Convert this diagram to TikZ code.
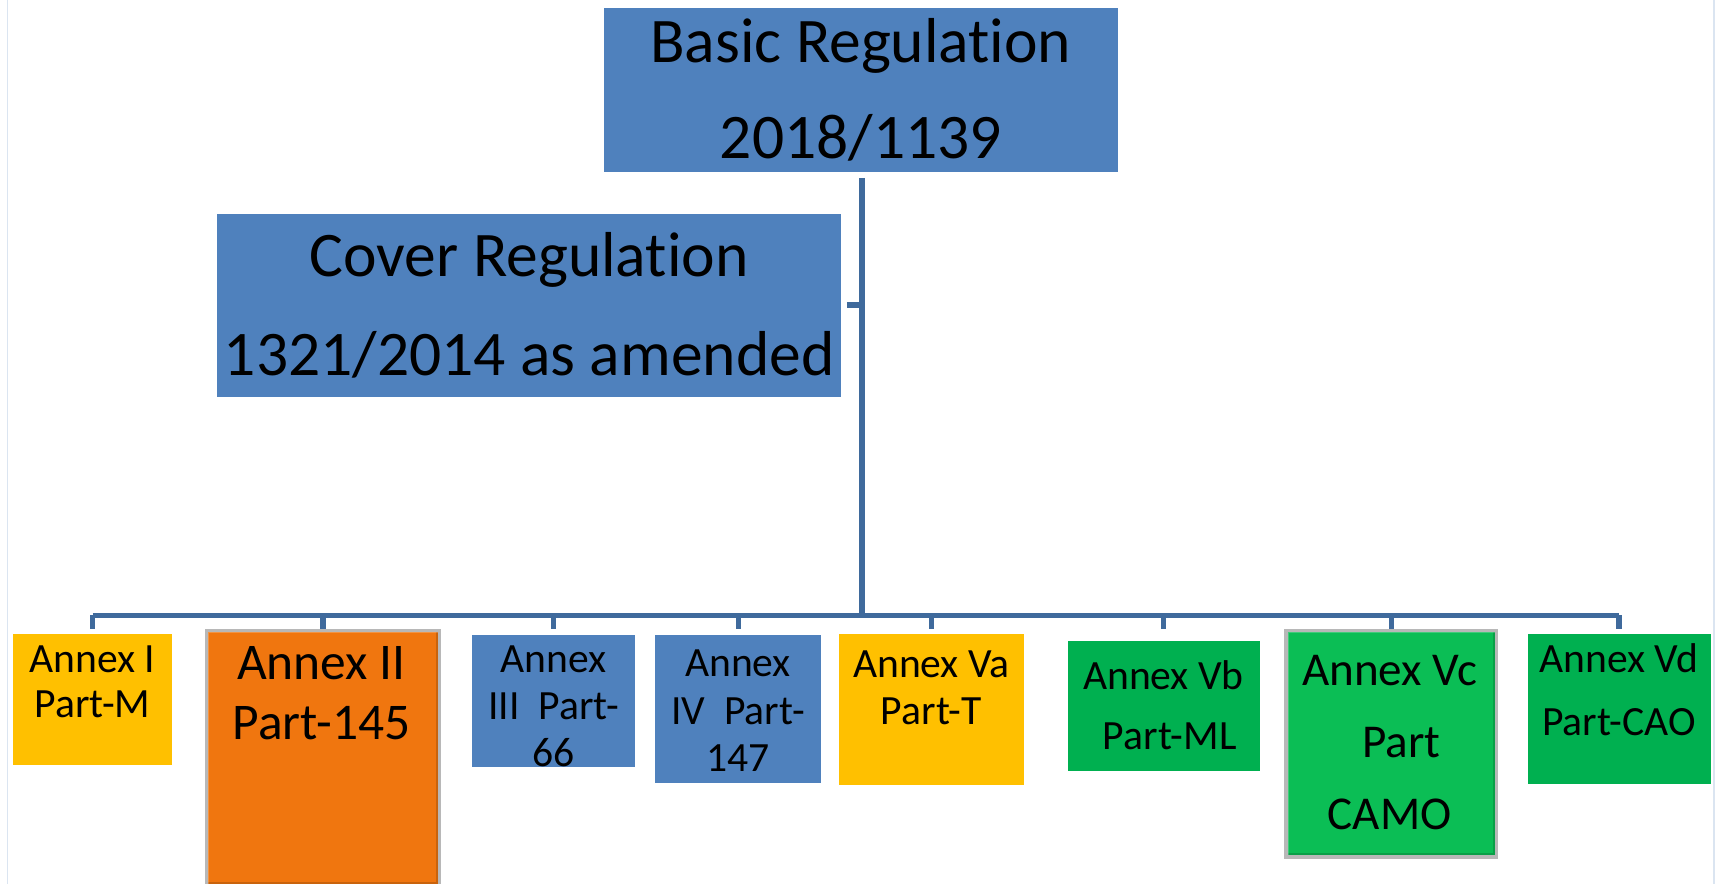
\documentclass[tikz,border=0pt]{standalone}
\usepackage{fontspec}
\setmainfont{Carlito}[Ligatures={NoCommon,NoRequired,NoContextual}]
\usepackage{tikz}
\usetikzlibrary{positioning,calc}
\definecolor{regblue}{HTML}{4F81BD}
\definecolor{linkblue}{HTML}{3F6A9C}
\definecolor{annexyellow}{HTML}{FFC000}
\definecolor{annexorange}{HTML}{F0760F}
\definecolor{annexgreen}{HTML}{00B050}
\definecolor{camogreen}{HTML}{0BBE55}
\definecolor{frameblue}{HTML}{DBE5F1}
\tikzset{
  regbox/.style={rectangle, inner sep=0pt, anchor=north west},
  regtext/.style={align=center, inner sep=0pt, text=black},
  link/.style={draw=linkblue, line width=5pt},
  raised/.style={draw=black!28, line width=3pt,
    path picture={\draw[line width=7pt, black, opacity=.16]
      (path picture bounding box.north east) -- (path picture bounding box.south east)
      -- (path picture bounding box.south west);
      \draw[line width=5pt, white, opacity=.22]
      (path picture bounding box.south west) -- (path picture bounding box.north west)
      -- (path picture bounding box.north east);}},
}
\newcommand{\fs}[2]{\fontsize{#1}{#2}\selectfont}

\begin{document}
\begin{tikzpicture}[x=1pt, y=-1pt]
  \useasboundingbox (0,0) rectangle (1568,807);
  \draw[frameblue, line width=1.5pt] (7,0) -- (7,807);
  \draw[frameblue, line width=1.5pt] (1565,0) -- (1565,807);

  \node[regbox, fill=regblue, minimum width=470pt, minimum height=150pt] (basic) at (551,7) {};
  \node[regtext, font=\fs{58}{88}] (basictxt) at (basic.center) {Basic Regulation\\2018/1139};
  \node[regbox, fill=regblue, minimum width=570pt, minimum height=167pt] (cover) at (198,195) {};
  \node[regtext, font=\fs{58}{90}] (covertxt) at (cover.center) {Cover Regulation\\1321/2014 as amended};

  \node[regbox, fill=annexyellow, minimum width=145pt, minimum height=119pt] (a1) at (12,579) {};
  \node[regbox, fill=annexorange, raised, minimum width=213pt, minimum height=233pt] (a2) at (187,574) {};
  \node[regbox, fill=regblue, minimum width=149pt, minimum height=120pt] (a3) at (431,580) {};
  \node[regbox, fill=regblue, minimum width=152pt, minimum height=135pt] (a4) at (598,580) {};
  \node[regbox, fill=annexyellow, minimum width=169pt, minimum height=138pt] (a5) at (766,579) {};
  \node[regbox, fill=annexgreen, minimum width=175pt, minimum height=119pt] (a6) at (975,585) {};
  \node[regbox, fill=camogreen, raised, minimum width=192pt, minimum height=207pt] (a7) at (1173,574) {};
  \node[regbox, fill=annexgreen, minimum width=167pt, minimum height=137pt] (a8) at (1395,579) {};

  \node[regtext, font=\fs{38}{41}] (t1) at (84.5,623) {Annex I\\Part-M};
  \node[regtext, font=\fs{47}{55}] (t2) at (293.5,633) {Annex II\\Part-145};
  \node[regtext, font=\fs{38}{43}] (t3) at (505.5,645) {Annex\\III~~Part-\\66};
  \node[regtext, font=\fs{38}{43}] (t4) at (674,649) {Annex\\IV~~Part-\\147};
  \node[regtext, font=\fs{38}{43}] (t5) at (850.5,628) {Annex Va\\Part-T};
  \node[regtext, font=\fs{38}{55}] (t6) at (1062.5,644) {Annex Vb\\\hspace*{.3em}Part-ML};
  \node[regtext, font=\fs{43}{66}] (t7) at (1269,678) {Annex Vc\\\hspace*{.5em}Part\\CAMO};
  \node[regtext, font=\fs{38}{57}] (t8) at (1478.5,630) {Annex Vd\\Part-CAO};

  \coordinate (bus) at (787,562);
  \coordinate (drop) at (0,574);
  \draw[link, shorten <=5pt] (basic.south -| bus) -- (bus);
  \draw[link, shorten <=5pt] (cover.east) -- (cover.east -| bus);
  \draw[link] (a1.north |- bus) -- (a8.north |- bus);
  \foreach \b in {a1,a2,a3,a4,a5,a6,a7,a8}
    \draw[link] (\b.north |- bus) -- (\b.north |- drop);
\end{tikzpicture}
\end{document}
